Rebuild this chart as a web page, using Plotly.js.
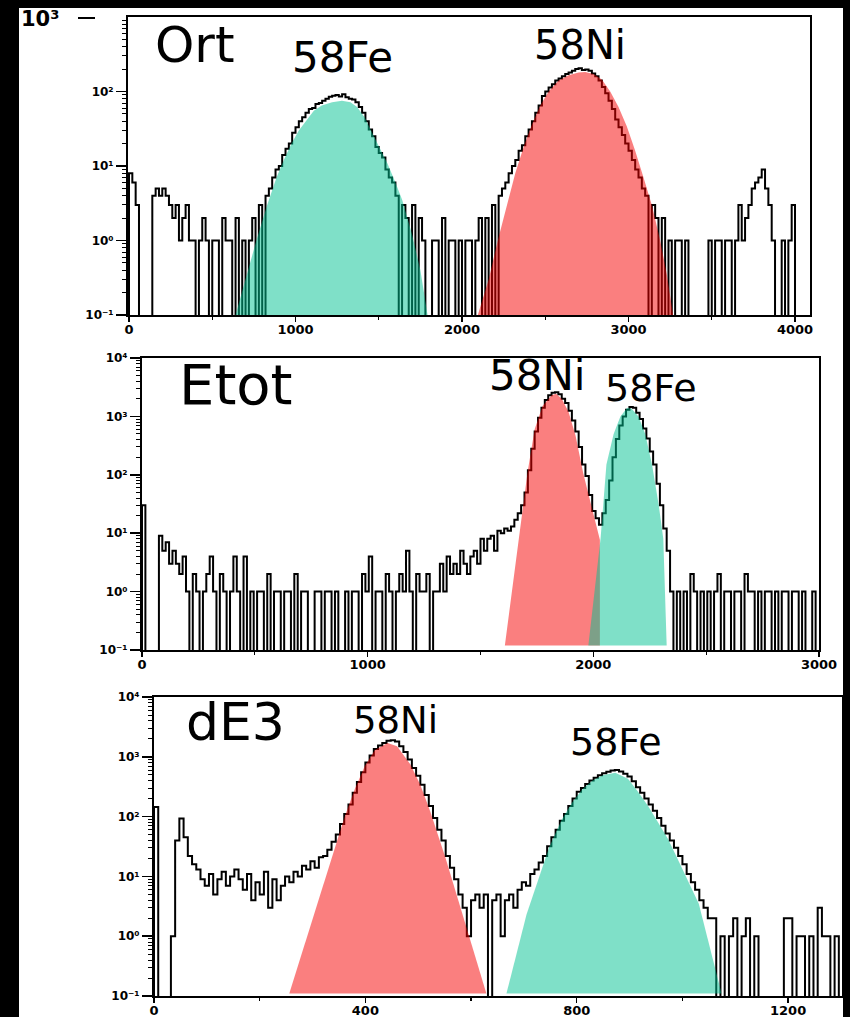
<!DOCTYPE html>
<html>
<head>
<meta charset="utf-8">
<script src="https://cdn.plot.ly/plotly-3.0.1.min.js"></script>
<style>html,body{margin:0;padding:0;background:#000;}#chart{width:850px;height:1017px;}</style>
</head>
<body>
<div id="chart"></div>
<script>
// ---------------- DATA ----------------
// Ort spectrum: bin width 20 channels, starting at 0
const ortBinWidth = 20;
const ortCounts = [
  8, 6, 3, 0, 0, 0, 0, 4, 5, 4,
  5, 4, 3, 2, 3, 1, 2, 3, 1, 1,
  0, 1, 2, 1, 0, 1, 1, 0, 2, 1,
  1, 0, 2, 0, 1, 0, 1, 2, 0, 3,
  0, 4, 5, 7, 9, 10, 14, 17, 20, 28,
  33, 40, 45, 52, 58, 60, 68, 70, 75, 80,
  85, 88, 90, 86, 92, 84, 80, 78, 72, 62,
  52, 40, 31, 25, 18, 15, 13, 9, 7, 6,
  4, 0, 3, 2, 0, 3, 0, 2, 1, 0,
  0, 1, 1, 0, 2, 0, 1, 1, 0, 1,
  0, 1, 1, 0, 1, 2, 0, 2, 0, 3,
  0, 4, 5, 6, 8, 10, 12, 16, 19, 25,
  31, 40, 52, 65, 87, 100, 113, 125, 140, 150,
  160, 172, 180, 190, 200, 205, 195, 198, 190, 175,
  160, 140, 115, 95, 75, 58, 42, 33, 26, 20,
  16, 12, 9, 7, 5, 4, 0, 3, 2, 0,
  2, 0, 1, 0, 1, 1, 0, 1, 0, 0,
  0, 0, 0, 0, 1, 0, 1, 1, 0, 1,
  1, 0, 1, 3, 1, 2, 3, 5, 6, 7,
  9, 5, 3, 1, 0, 0, 1, 0, 1, 3,
  0, 0, 0, 0, 0
];
const ortFeFillX = [640, 700, 765, 830, 886, 930, 976, 1020, 1067, 1110, 1158, 1220, 1279, 1330, 1370, 1415, 1460, 1505, 1551, 1600, 1641, 1700, 1750, 1793];
const ortFeFillY = [0.1, 0.3, 1.0, 3, 7, 12, 20, 30, 42, 55, 65, 72, 75, 72, 62, 45, 28, 18, 11, 6, 3.5, 1.2, 0.4, 0.1];
const ortNiFillX = [2095, 2160, 2215, 2270, 2320, 2370, 2420, 2470, 2520, 2580, 2640, 2700, 2740, 2790, 2840, 2890, 2940, 2990, 3040, 3090, 3140, 3190, 3230, 3268];
const ortNiFillY = [0.1, 0.3, 1, 3, 8, 18, 36, 65, 100, 140, 165, 180, 182, 172, 145, 100, 62, 34, 16, 7, 3, 1, 0.35, 0.1];

// Etot spectrum: bin width 15
const etotBinWidth = 15;
const etotCounts = [
  30, 0, 0, 0, 0, 9, 5, 7, 3, 5,
  3, 2, 4, 1, 0, 2, 1, 0, 1, 2,
  4, 1, 0, 2, 1, 0, 1, 4, 1, 0,
  4, 0, 1, 0, 1, 1, 0, 2, 0, 1,
  1, 0, 1, 1, 0, 2, 0, 1, 1, 0,
  0, 1, 1, 0, 1, 1, 0, 1, 0, 0,
  1, 0, 1, 1, 0, 2, 1, 4, 0, 1,
  1, 0, 2, 1, 0, 1, 2, 1, 5, 1,
  0, 2, 1, 1, 2, 0, 1, 1, 3, 1,
  4, 2, 3, 2, 5, 3, 2, 4, 5, 3,
  8, 5, 8, 9, 5, 11, 10, 12, 11, 13,
  17, 22, 30, 50, 120, 280, 550, 950, 1400, 1900,
  2300, 2550, 2600, 2400, 2000, 1700, 1250, 850, 550, 300,
  150, 95, 45, 24, 18, 14, 22, 37, 80, 200,
  410, 700, 1000, 1300, 1450, 1400, 1150, 900, 620, 420,
  250, 150, 70, 30, 12, 5, 1, 0, 1, 0,
  1, 0, 2, 1, 0, 1, 0, 1, 0, 1,
  2, 0, 1, 1, 0, 1, 1, 0, 2, 1,
  1, 0, 1, 0, 1, 1, 0, 1, 0, 1,
  1, 0, 1, 1, 0, 1, 0, 0, 1, 0
];
const etotNiFillX = [1608, 1708, 1740, 1775, 1815, 1835, 1860, 1890, 1921, 1955, 2029, 2029];
const etotNiFillY = [0.12, 107, 600, 1500, 2300, 2450, 2000, 1200, 470, 107, 7.7, 0.12];
const etotFeFillX = [1978, 2032, 2058, 2090, 2120, 2150, 2170, 2200, 2230, 2260, 2290, 2310, 2325];
const etotFeFillY = [0.12, 8, 150, 500, 1000, 1400, 1350, 1000, 500, 150, 30, 8, 0.12];

// dE3 spectrum: bin width 8
const de3BinWidth = 8;
const de3Counts = [
  145, 0, 0, 0, 1, 40, 93, 45, 22, 16,
  13, 9, 7, 11, 5, 9, 12, 7, 10, 13,
  9, 6, 11, 4, 8, 5, 12, 3, 9, 4,
  7, 10, 8, 12, 10, 15, 13, 18, 14, 21,
  22, 28, 38, 50, 75, 110, 160, 250, 380, 550,
  800, 1050, 1350, 1550, 1700, 1850, 1900, 1800, 1500, 1200,
  900, 650, 480, 340, 230, 150, 95, 60, 40, 22,
  14, 9, 5, 3, 1, 4, 5, 3, 5, 0,
  4, 5, 1, 4, 5, 3, 6, 8, 7, 11,
  13, 17, 22, 32, 45, 60, 85, 110, 150, 200,
  260, 300, 350, 400, 445, 490, 530, 560, 590, 600,
  570, 520, 470, 390, 310, 250, 200, 160, 125, 95,
  70, 52, 40, 30, 22, 16, 11, 8, 6, 4,
  3, 2, 2, 0, 1, 0, 1, 2, 0, 1,
  2, 0, 1, 0, 0, 0, 0, 0, 0, 2,
  2, 0, 1, 1, 0, 1, 0, 3, 1, 1,
  0, 1, 0
];
const de3NiFillX = [256, 342, 361, 380, 399, 418, 442, 460, 485, 504, 523, 552, 629];
const de3NiFillY = [0.11, 31, 100, 290, 700, 1300, 1700, 1500, 750, 340, 120, 20, 0.11];
const de3FeFillX = [667, 705, 748, 772, 791, 811, 830, 849, 873, 897, 916, 935, 954, 973, 993, 1012, 1031, 1074];
const de3FeFillY = [0.11, 2.3, 31, 90, 170, 290, 400, 490, 540, 430, 260, 150, 80, 42, 18, 8, 3.5, 0.11];

// tick labels
const ortXTicks = [0, 1000, 2000, 3000, 4000];
const etotXTicks = [0, 1000, 2000, 3000];
const de3XTicks = [0, 400, 800, 1200];
const ortXMinor = [500, 1500, 2500, 3500];
const etotXMinor = [500, 1500, 2500];
const de3XMinor = [200, 600, 1000];
const decadeVals = [0.1, 1, 10, 100, 1000, 10000];
const decadeText = ['10⁻¹', '10⁰', '10¹', '10²', '10³', '10⁴'];

const panelNames = ['Ort', 'Etot', 'dE3'];

// ---------------- DRAWING ----------------
const W = 850, H = 1017;
const ZERO = 0.01; // empty bins drawn below the axis floor
const px = v => v / W;
const py = v => 1 - v / H;

function stepTrace(width, counts, xa, ya) {
  const xs = [0], ys = [ZERO];
  counts.forEach((c, i) => { xs.push(i * width); ys.push(c > 0 ? c : ZERO); });
  xs.push(counts.length * width); ys.push(ZERO);
  return {x: xs, y: ys, type: 'scatter', mode: 'lines', xaxis: xa, yaxis: ya,
    line: {shape: 'hv', color: '#000', width: 2, simplify: false}, hoverinfo: 'skip', showlegend: false};
}
const TEAL = 'rgba(0,193,145,0.5)';
const RED = 'rgba(245,0,0,0.5)';
function fillTrace(xv, yv, color, xa, ya) {
  return {x: xv, y: yv, type: 'scatter', mode: 'lines', fill: 'toself', fillcolor: color,
    line: {width: 0, color: color}, xaxis: xa, yaxis: ya, hoverinfo: 'skip', showlegend: false};
}

const traces = [
  stepTrace(ortBinWidth, ortCounts, 'x', 'y'),
  fillTrace(ortFeFillX, ortFeFillY, TEAL, 'x', 'y'),
  fillTrace(ortNiFillX, ortNiFillY, RED, 'x', 'y'),
  stepTrace(etotBinWidth, etotCounts, 'x2', 'y2'),
  fillTrace(etotNiFillX, etotNiFillY, RED, 'x2', 'y2'),
  fillTrace(etotFeFillX, etotFeFillY, TEAL, 'x2', 'y2'),
  stepTrace(de3BinWidth, de3Counts, 'x3', 'y3'),
  fillTrace(de3NiFillX, de3NiFillY, RED, 'x3', 'y3'),
  fillTrace(de3FeFillX, de3FeFillY, TEAL, 'x3', 'y3')
];

const xTickFont = {family: 'DejaVu Sans', size: 13, color: '#000', weight: 'bold'};
const yTickFont = {family: 'DejaVu Sans', size: 12, color: '#000', weight: 'bold'};
const minorY = [];
[0.1, 1, 10, 100, 1000].forEach(d => { for (let k = 2; k <= 9; k++) minorY.push(d * k); });

function xAxis(dom, range, ticks, minor, anchor) {
  return {domain: dom, range: range, anchor: anchor, tickmode: 'array', tickvals: ticks,
    ticktext: ticks.map(String), ticks: 'outside', ticklen: 5, tickwidth: 1.5, tickcolor: '#000',
    ticklabelstandoff: -4,
    showline: true, mirror: true, linewidth: 2, linecolor: '#000', showgrid: false, zeroline: false,
    tickfont: xTickFont, fixedrange: true,
    minor: {tickmode: 'array', tickvals: minor, ticks: 'outside', ticklen: 3, tickwidth: 1.2, tickcolor: '#000'}};
}
function yAxis(dom, top, nLabels, anchor) {
  return {type: 'log', domain: dom, range: [-1, top], anchor: anchor, tickmode: 'array',
    tickvals: decadeVals.slice(0, nLabels), ticktext: decadeText.slice(0, nLabels),
    ticks: 'outside', ticklen: 10, tickwidth: 1.5, tickcolor: '#000',
    showline: true, mirror: true, linewidth: 2, linecolor: '#000', showgrid: false, zeroline: false,
    tickfont: yTickFont, fixedrange: true,
    minor: {tickmode: 'array', tickvals: minorY, ticks: 'outside', ticklen: 4, tickwidth: 1, tickcolor: '#000'}};
}

const labelFont = (s) => ({family: 'DejaVu Sans', size: s, color: '#000'});
function label(text, cx, cy, size) {
  return {text: text, xref: 'paper', yref: 'paper', x: px(cx), y: py(cy), xanchor: 'center', yanchor: 'middle',
    showarrow: false, font: labelFont(size)};
}

const layout = {
  width: W, height: H,
  margin: {l: 0, r: 0, t: 0, b: 0, pad: 0},
  paper_bgcolor: '#000', plot_bgcolor: '#fff',
  showlegend: false,
  xaxis: xAxis([px(128), px(810)], [-6, 4090], ortXTicks, ortXMinor, 'y'),
  yaxis: yAxis([py(315), py(17)], 3, 4, 'x'),
  xaxis2: xAxis([px(142), px(819)], [0, 3000], etotXTicks, etotXMinor, 'y2'),
  yaxis2: yAxis([py(650), py(358)], 4, 6, 'x2'),
  xaxis3: xAxis([px(154), px(842)], [0, 1302], de3XTicks, de3XMinor, 'y3'),
  yaxis3: yAxis([py(996), py(697)], 4, 6, 'x3'),
  shapes: [
    {type: 'rect', xref: 'paper', yref: 'paper', x0: px(19), x1: px(843), y0: 0, y1: py(8),
     fillcolor: '#fff', line: {width: 0}, layer: 'below'},
    {type: 'line', xref: 'paper', yref: 'paper', x0: px(78), x1: px(95), y0: py(18), y1: py(18),
     line: {color: '#000', width: 2}}
  ],
  annotations: [
    {text: '10³', xref: 'paper', yref: 'paper', x: px(19), y: py(19), xanchor: 'left', yanchor: 'middle',
     showarrow: false, font: {family: 'DejaVu Sans', size: 21, color: '#000', weight: 'bold'}},
    label(panelNames[0], 195, 45, 50),
    label('58Fe', 342, 57, 42),
    label('58Ni', 580, 45, 40),
    label(panelNames[1], 236, 384, 56),
    label('58Ni', 537, 376, 42),
    label('58Fe', 651, 388, 38),
    label(panelNames[2], 235, 722, 52),
    label('58Ni', 395, 720, 37),
    label('58Fe', 616, 742, 38)
  ]
};

Plotly.newPlot('chart', traces, layout, {staticPlot: true, displayModeBar: false});
</script>
</body>
</html>
